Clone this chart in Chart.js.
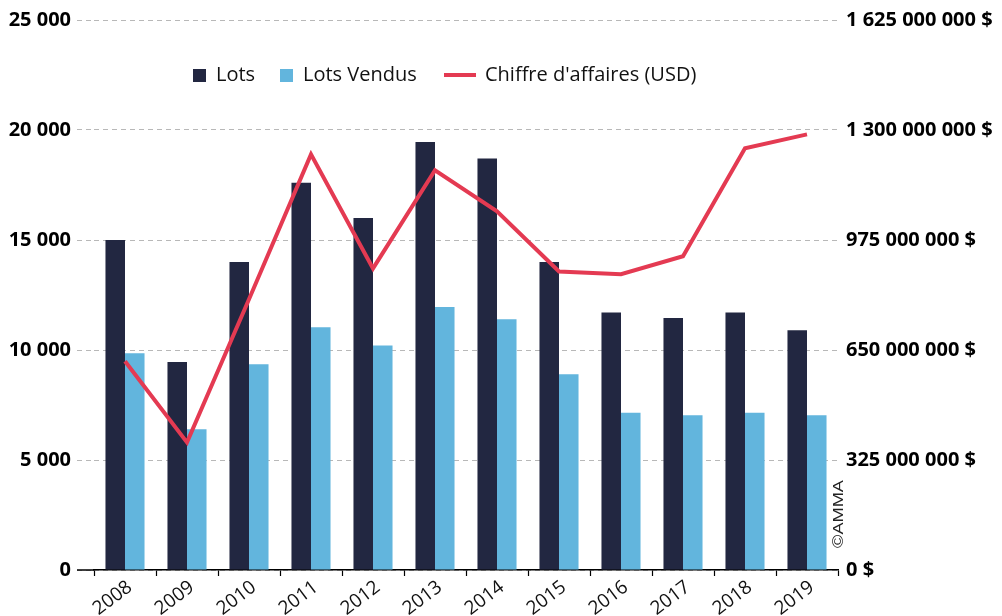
<!DOCTYPE html>
<html>
<head>
<meta charset="utf-8">
<script src="https://cdn.jsdelivr.net/npm/chart.js@4.4.1/dist/chart.umd.min.js"></script>
<style>
  body { margin: 0; background: #fff; }
  canvas { display: block; }
</style>
</head>
<body>
<canvas id="myChart" width="1002" height="616"></canvas>
<script>
// data
var years = ['2008', '2009', '2010', '2011', '2012', '2013', '2014', '2015', '2016', '2017', '2018', '2019'];
var lots = [15000, 9450, 14000, 17600, 16000, 19450, 18700, 14000, 11700, 11450, 11700, 10900];
var lotsVendus = [9850, 6400, 9350, 11030, 10200, 11950, 11400, 8900, 7150, 7030, 7150, 7030];
var chiffre = [617e6, 377e6, 800e6, 1228e6, 891e6, 1181e6, 1060e6, 882e6, 874e6, 927e6, 1246e6, 1287e6];

var navy = '#222741';
var blue = '#62b5dd';
var red = '#e43a52';

function spaced(n) {
    return Math.round(n).toString().replace(/\B(?=(\d{3})+(?!\d))/g, ' ');
}

// legend + copyright + axis stub, drawn on the canvas
var extras = {
    id: 'extras',
    afterDraw: function(chart) {
        var c = chart.ctx;
        var area = chart.chartArea;
        c.save();
        // baseline stub left of the first category
        c.strokeStyle = '#000';
        c.lineWidth = 1.5;
        c.beginPath();
        c.moveTo(77, area.bottom);
        c.lineTo(area.left, area.bottom);
        c.stroke();

        // legend
        c.font = '20px "Open Sans"';
        c.textBaseline = 'middle';
        c.fillStyle = navy;
        c.fillRect(193, 69, 13, 13);
        c.fillStyle = '#111';
        c.fillText(chart.data.datasets[0].label, 216, 75);
        c.fillStyle = blue;
        c.fillRect(280, 69, 13, 13);
        c.fillStyle = '#111';
        c.fillText(chart.data.datasets[1].label, 303, 75);
        c.strokeStyle = red;
        c.lineWidth = 4;
        c.beginPath();
        c.moveTo(444, 75);
        c.lineTo(476, 75);
        c.stroke();
        c.fillText(chart.data.datasets[2].label, 485, 75);

        // ©AMMA
        c.translate(843, 548);
        c.rotate(-Math.PI / 2);
        c.scale(1.3, 1);
        c.font = '14px "Liberation Sans"';
        c.textBaseline = 'alphabetic';
        c.fillStyle = '#222';
        c.fillText('©AMMA', 0, 0);
        c.restore();
    }
};

var ctx = document.getElementById('myChart');
var myChart = new Chart(ctx, {
    type: 'bar',
    data: {
        labels: years,
        datasets: [
            {
                label: 'Lots',
                data: lots,
                backgroundColor: navy,
                yAxisID: 'y',
                order: 2
            },
            {
                label: 'Lots Vendus',
                data: lotsVendus,
                backgroundColor: blue,
                yAxisID: 'y',
                order: 2
            },
            {
                type: 'line',
                label: "Chiffre d'affaires (USD)",
                data: chiffre,
                borderColor: red,
                backgroundColor: red,
                borderWidth: 4,
                pointRadius: 0,
                tension: 0,
                fill: false,
                yAxisID: 'y1',
                order: 1
            }
        ]
    },
    options: {
        responsive: false,
        animation: false,
        layout: { padding: { top: 20, left: 0, right: 0, bottom: 0 } },
        datasets: {
            bar: { categoryPercentage: 0.63, barPercentage: 1.0 }
        },
        plugins: {
            legend: { display: false },
            tooltip: { enabled: false }
        },
        scales: {
            x: {
                grid: {
                    drawOnChartArea: false,
                    drawTicks: true,
                    tickLength: 6,
                    tickColor: '#000',
                    tickWidth: 1.2
                },
                border: { display: true, color: '#000', width: 1.5 },
                ticks: {
                    color: '#111',
                    font: { family: '"Open Sans"', size: 19 },
                    minRotation: 37,
                    maxRotation: 37,
                    labelOffset: 5,
                    padding: 0
                },
                afterFit: function(s) { s.height = 46; }
            },
            y: {
                position: 'left',
                min: 0,
                max: 25000,
                z: 1,
                grid: {
                    color: 'rgba(0,0,0,0.28)',
                    tickLength: 17,
                    tickBorderDash: [5, 4],
                    lineWidth: 1
                },
                border: { display: false, dash: [5, 4] },
                ticks: {
                    stepSize: 5000,
                    padding: 6,
                    color: '#000',
                    font: { family: '"Open Sans"', size: 20, weight: 'bold' },
                    callback: function(v) { return spaced(v); }
                },
                afterFit: function(s) { s.width = 94; }
            },
            y1: {
                position: 'right',
                min: 0,
                max: 1625000000,
                grid: { display: false, drawTicks: false },
                border: { display: false },
                ticks: {
                    stepSize: 325000000,
                    padding: 8,
                    color: '#000',
                    font: { family: '"Open Sans"', size: 20, weight: 'bold' },
                    callback: function(v) { return spaced(v) + ' $'; }
                },
                afterFit: function(s) { s.width = 164; }
            }
        }
    },
    plugins: [extras]
});
</script>
</body>
</html>
